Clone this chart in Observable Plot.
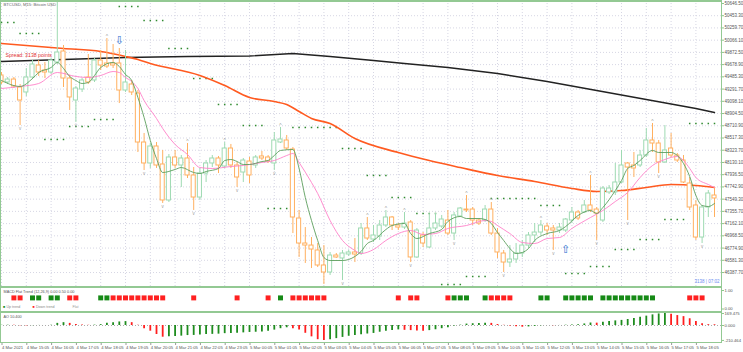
<!DOCTYPE html>
<html><head><meta charset="utf-8">
<script src="https://cdn.jsdelivr.net/npm/d3@7"></script>
<script src="https://cdn.jsdelivr.net/npm/@observablehq/plot@0.6"></script>
<style>
body{margin:0;background:#fff;}
#wrap{position:relative;width:743px;height:352px;overflow:hidden;font-family:"Liberation Sans",Arial,sans-serif;background:#fff;}
#wrap svg{position:absolute;left:0;}
.ln{position:absolute;background:#93c993;}
</style></head><body><div id="wrap"></div>
<script>
// ---- candles (BTCUSD M15) ----
const open = [49507,49396,49443,49317,49238,49475,49665,49586,49554,49713,
49887,49459,49111,49285,49475,49428,49744,49697,49697,49697,
49269,49364,49222,48446,48114,48383,48098,47528,48209,48082,
48193,47924,47575,47955,48114,48193,48066,48351,48082,47971,
48145,48082,48225,48209,48114,48446,48478,48335,47243,46847,
46815,46737,46499,46388,46657,46610,46673,46705,46689,47085,
46910,46958,47132,47259,47132,47100,47180,46626,46974,46784,
47085,47116,47211,47005,47275,47385,47385,47211,47211,47385,
47005,46689,46546,46594,46689,46815,46974,47021,47116,47085,
47053,47053,47211,47338,47338,47449,47385,47211,47655,47655,
47813,48114,48082,48082,48240,48478,48430,48130,48351,48240,
48161,47797,47449,46942,47417,47607];
const high = [49554,49475,49475,49364,49618,49744,49744,49713,49776,50662,
49982,49507,49333,49459,49839,49776,49903,50092,49997,49934,
49903,49428,49269,48589,48430,48446,48320,48256,48320,48240,
48430,48050,48035,48161,48240,48225,48446,48415,48130,48193,
48209,48240,48304,48240,48604,48684,48557,48367,47370,47100,
46942,46847,46815,46705,46689,46737,46737,46926,47164,47259,
47132,47211,47370,47275,47164,47338,47211,47085,47021,47322,
47322,47291,47370,47338,47417,47607,47417,47243,47449,47496,
47085,46737,46815,46847,46895,47021,47164,47211,47164,47132,
47164,47243,47417,47370,47528,47924,47417,47749,47765,48114,
48320,48130,48288,48320,48668,48747,48478,48715,48589,48272,
48240,47892,47528,47449,47686,47734];
const low = [49364,49364,49301,48715,49174,49443,49491,49459,49523,49681,
49317,48953,48763,49238,49364,49396,49586,49618,49618,49063,
49238,49190,48288,48003,48035,48035,47481,47496,48035,47734,
47876,47370,47528,47813,48050,47955,48035,48035,47734,47813,
47797,48035,48161,48114,48003,48430,48320,47005,46626,46531,
46451,46467,46198,46341,46610,46262,46642,46546,46657,46895,
46863,46895,47100,47053,47053,47069,46546,46610,46784,46768,
47053,47085,46974,46895,47259,47338,47132,47132,47180,46974,
46610,46388,46467,46531,46626,46768,46863,46974,46974,46737,
47005,47021,47164,47211,47322,47338,46895,47180,47623,47607,
47797,47211,47892,48050,48209,48288,47955,48114,48209,48130,
47797,47370,46895,46847,47259,47259];
const close = [49396,49443,49333,49111,49475,49681,49554,49554,49744,49871,
49459,49159,49301,49428,49396,49744,49665,49649,49665,49269,
49396,49238,48446,48114,48383,48082,47528,48209,48082,48193,
47924,47575,47955,48114,48193,48082,48351,48082,47892,48161,
47924,48209,48193,48145,48478,48494,48351,47259,46847,46815,
46752,46499,46388,46657,46626,46689,46705,46673,47085,46926,
46974,47132,47259,47132,47100,47164,46626,47053,46847,47085,
47164,47227,47005,47291,47401,47370,47211,47164,47385,47005,
46705,46546,46594,46689,46815,46974,47021,47132,47053,47053,
47100,47227,47338,47243,47449,47370,47322,47718,47718,47813,
48082,48050,48035,48240,48478,48430,48130,48320,48240,48161,
47813,47417,46942,47417,47639,47560];

// ---- moving averages (read at bars) ----
const blackX = [0,10,20,30,40,47,53,60,65,72,80,88,96,104,112,115];
const blackY = [49728,49760,49792,49808,49815,49855,49808,49744,49697,49633,49538,49412,49269,49127,48984,48921];
const orangeX = [0,10,16,20,22,24,32,36,40,44,46,48,50,53,57,64,69,74,80,86,92,96,100,104,108,112,115];
const orangeY = [50013,49934,49887,49808,49760,49697,49507,49348,49159,49095,49048,48937,48826,48747,48509,48288,48161,48050,47924,47829,47718,47671,47686,47734,47781,47765,47734];
const pinkX = [0,3,6,9,12,14,16,18,19,20,21,22,23,25,26,28,30,32,34,37,39,42,44,46,47,48,50,51,53,55,57,58,60,62,64,66,68,70,72,75,78,79,80,82,84,86,88,90,92,95,97,99,101,103,105,107,109,110,111,112,114,115];
const pinkY = [49301,49333,49380,49554,49491,49475,49507,49570,49554,49475,49412,49301,49111,48826,48668,48415,48256,48050,48035,48066,48082,48130,48161,48240,48272,48130,47813,47639,47211,46895,46737,46689,46752,46895,47005,47053,46990,47005,47085,47132,47211,47196,47132,47005,46863,46847,46926,46942,47085,47259,47370,47512,47655,47892,48082,48177,48225,48161,48035,47892,47781,47734];
const greenX = [0,3,5,6,8,9,10,11,12,13,14,15,16,18,19,20,21,22,23,24,25,26,28,29,31,32,33,35,36,37,38,39,40,42,43,44,45,47,48,49,50,51,52,53,55,57,58,59,60,62,63,65,66,67,69,71,72,74,75,77,78,79,80,81,82,83,84,85,86,88,90,91,93,95,96,97,99,100,101,102,103,105,106,108,109,110,111,112,113,114,115];
const greenY = [49428,49333,49459,49554,49633,49713,49618,49491,49428,49380,49396,49507,49633,49713,49649,49523,49428,49159,48842,48478,48193,47971,48019,48050,47971,47955,47987,48035,48161,48177,48145,48098,48098,48145,48161,48240,48320,48335,48035,47575,47211,46895,46626,46578,46578,46642,46721,46847,46895,47069,47132,47164,47005,46926,47005,47069,47196,47275,47243,47243,47227,47164,47021,46895,46768,46689,46705,46768,46895,47005,47053,47116,47291,47370,47322,47417,47686,47845,48035,48082,48161,48320,48288,48288,48240,48114,47908,47607,47449,47433,47481];

// ---- stepped dotted levels: start bar, length, price ----
const segStart = [0,3,7,11,15,19,23,27,31,35,39,43,47,55,59,63,67,71,75,79,87,91,95,99,103,107,111];
const segLen   = [3,4,4,4,4,4,4,4,4,4,4,4,8,4,4,4,4,4,4,8,4,4,4,4,4,4,5];
const segLevel = [50346,50172,48494,48699,48810,50599,50377,49934,49459,49048,48715,47401,48684,48351,47924,47575,47322,46198,46325,47560,47449,46372,46483,46752,46910,47227,48747];

// ---- fractals and signal arrows ----
const fractalUp = [17,30,36,45,59,62,65,75,79,87,95,105];
const fractalDown = [3,12,23,26,31,38,44,55,66,73,81,89,96,101,106,113];
const sellBars = [19], sellPrice = [50061];
const buyBars = [91], buyPrice = [46752];

// ---- MACD Flat Trend ----
const macdUpBars = [5,6,8,9,16,17,45,73,74,75,78,87,88,91,92,93,94,95,97,98,99,100,101,102,103,104,105];
const macdDownBars = [2,3,11,12,18,19,20,21,22,23,24,25,26,31,38,43,47,48,49,50,51,52,64,66,67,72,79,80,81,82,111,112,113];

// ---- Awesome Oscillator ----
const ao = [3,4,2,-3,-5,-2,1,-1,3,30,
40,30,15,8,3,5,12,30,40,50,
55,40,5,-45,-80,-127,-165,-160,-155,-150,
-142,-140,-135,-128,-125,-122,-115,-112,-110,-104,
-98,-95,-90,-80,-65,-45,-32,-45,-65,-110,
-160,-200,-210,-200,-185,-168,-152,-140,-130,-120,
-112,-95,-82,-72,-62,-68,-72,-76,-80,-72,
-60,-45,-30,-8,5,20,25,27,33,30,
14,3,-8,-18,-24,-20,-12,-4,0,-3,
1,4,8,12,22,35,33,45,55,65,
72,85,100,115,132,150,163,169.475,160,140,
125,95,55,25,12,10.4];

// ---- axes ----
const priceTicks = [50646.50,50453.30,50259.70,50066.10,49872.50,49678.90,49485.30,49291.70,49098.10,48904.50,48710.90,48517.30,48323.70,48130.10,47936.50,47742.90,47549.30,47355.70,47162.10,46968.50,46774.90,46581.30,46387.70];
const timeTickBars = [0,4,8,12,16,20,24,28,32,36,40,44,48,52,56,60,64,68,72,76,80,84,88,92,96,100,104,108,112];
const timeLabels = ["4 Mar 2021","4 Mar 15:05","4 Mar 16:05","4 Mar 17:05","4 Mar 18:05","4 Mar 19:05","4 Mar 20:05","4 Mar 21:05","4 Mar 22:05","4 Mar 23:05","5 Mar 00:05","5 Mar 01:05","5 Mar 02:05","5 Mar 03:05","5 Mar 04:05","5 Mar 05:05","5 Mar 06:05","5 Mar 07:05","5 Mar 08:05","5 Mar 09:05","5 Mar 10:05","5 Mar 11:05","5 Mar 12:05","5 Mar 13:05","5 Mar 14:05","5 Mar 15:05","5 Mar 16:05","5 Mar 17:05","5 Mar 18:05"];
const aoTicks = [169.475, 0, -210.464];
const macdTicks = [1, 0];

// ---------------- drawing ----------------
const GREEN_C = "#9edab2", ORANGE_C = "#ffb060";
const GRID = "#d6d6e4", AXIS = "#8cc68c", TXT = "#555";
const FONT = "Liberation Sans, Arial, sans-serif";
const xDom = [-1/6.2, 720/6.2];
const wrap = document.getElementById("wrap");

const bars = open.map((o,i)=>({i,o,h:high[i],l:low[i],c:close[i],up:close[i]>=open[i]}));
const pts = (X,Y)=>X.map((x,k)=>({x,y:Y[k]}));
const dots = [];
segStart.forEach((s,k)=>{for(let j=0;j<segLen[k];j++) dots.push({i:s+j,p:segLevel[k]});});

const main = Plot.plot({
  width:743, height:286, marginLeft:0, marginRight:22, marginTop:0, marginBottom:0,
  x:{domain:xDom, axis:null},
  y:{domain:[46166.6,50694], axis:null},
  color:{type:"identity"},
  style:{background:"#fff", fontFamily:FONT, overflow:"hidden"},
  marks:[
    Plot.gridY(priceTicks.slice(1), {stroke:GRID, strokeOpacity:1, strokeDasharray:"1,2"}),
    Plot.gridX(timeTickBars, {stroke:GRID, strokeOpacity:1, strokeDasharray:"1,2"}),
    Plot.axisY(priceTicks, {anchor:"right", tickSize:2, tickPadding:1, fontSize:4.5, fill:TXT, stroke:AXIS, label:null, tickFormat:d=>d.toFixed(2)}),
    Plot.dot(dots, {x:"i", y:"p", r:0.85, symbol:"square", fill:"#2f8a2f"}),
    Plot.line(pts(blackX,blackY), {x:"x", y:"y", stroke:"#222", strokeWidth:1.4}),
    Plot.line(pts(orangeX,orangeY), {x:"x", y:"y", stroke:"#ff5a20", strokeWidth:1.6, curve:"monotone-x"}),
    Plot.ruleX(bars, {x:"i", y1:"l", y2:"h", stroke:d=>d.up?GREEN_C:ORANGE_C, strokeWidth:1}),
    Plot.rect(bars, {x1:d=>d.i-0.33, x2:d=>d.i+0.33, y1:d=>Math.min(d.o,d.c), y2:d=>Math.max(d.o,d.c), fill:"#fff", stroke:d=>d.up?GREEN_C:ORANGE_C, strokeWidth:1}),
    Plot.line(pts(pinkX,pinkY), {x:"x", y:"y", stroke:"#ff80c8", strokeWidth:0.9, curve:"monotone-x"}),
    Plot.line(pts(greenX,greenY), {x:"x", y:"y", stroke:"#5c9e5c", strokeWidth:0.9, curve:"monotone-x"}),
    Plot.text(fractalUp, {x:d=>d, y:d=>high[d], text:()=>"^", dy:-2, fontSize:5, fill:"#999"}),
    Plot.text(fractalDown, {x:d=>d, y:d=>low[d], text:()=>"v", dy:3, fontSize:4.5, fill:"#999"}),
    Plot.text(sellBars, {x:d=>d, y:(d,k)=>sellPrice[k], text:()=>"⇩", fontSize:11, fill:"#2f72d0", fontFamily:"DejaVu Sans"}),
    Plot.text(buyBars, {x:d=>d, y:(d,k)=>buyPrice[k], text:()=>"⇧", fontSize:11, fill:"#2f72d0", fontFamily:"DejaVu Sans"}),
    Plot.text(["BTCUSD, M15: Bitcoin USD"], {frameAnchor:"top-left", dx:3, dy:3, fontSize:4.2, fill:"#666", textAnchor:"start"}),
    Plot.text(["Spread: 3138 points"], {frameAnchor:"top-left", dx:5, dy:53, fontSize:5.2, fill:"#e03030", textAnchor:"start"}),
    Plot.text(["3138 | 07:02"], {frameAnchor:"bottom-right", dx:-2, dy:-4, fontSize:4.5, fill:"#6a8cf0", textAnchor:"end"})
  ]
});
main.style.top = "0px";
wrap.appendChild(main);

const macd = Plot.plot({
  width:743, height:25, marginLeft:0, marginRight:22, marginTop:0, marginBottom:0,
  x:{domain:xDom, axis:null},
  y:{domain:[-0.135,1.216], axis:null},
  style:{background:"#fff", fontFamily:FONT},
  marks:[
    Plot.axisY(macdTicks, {anchor:"right", tickSize:2, tickPadding:1, fontSize:4.2, fill:TXT, stroke:AXIS, label:null, tickFormat:d=>d.toFixed(2)}),
    Plot.dot(macdUpBars, {x:d=>d, y:()=>0.6, symbol:"square", r:2.8, fill:"#168a16"}),
    Plot.dot(macdDownBars, {x:d=>d, y:()=>0.6, symbol:"square", r:2.8, fill:"#ff2020"}),
    Plot.text(["MACD Flat Trend (12,26,9) 0.00 0.50 0.00"], {frameAnchor:"top-left", dx:3, dy:4, fontSize:3.8, fill:"#555", textAnchor:"start"}),
    Plot.text(["■"], {frameAnchor:"top-left", dx:2.5, dy:19, fontSize:3.6, fill:"#168a16", textAnchor:"start"}),
    Plot.text(["Up trend"], {frameAnchor:"top-left", dx:6, dy:19, fontSize:3.6, fill:"#888", textAnchor:"start"}),
    Plot.text(["■"], {frameAnchor:"top-left", dx:32, dy:19, fontSize:3.6, fill:"#ff2020", textAnchor:"start"}),
    Plot.text(["Down trend"], {frameAnchor:"top-left", dx:35.5, dy:19, fontSize:3.6, fill:"#888", textAnchor:"start"}),
    Plot.text(["Flat"], {frameAnchor:"top-left", dx:72, dy:19, fontSize:3.6, fill:"#999", textAnchor:"start"})
  ]
});
macd.style.top = "286px";
wrap.appendChild(macd);

const aoData = ao.map((v,i)=>({i,v,col:(i===0||v>=ao[i-1])?"#1e8c1e":"#ff1e1e"}));
const aoPlot = Plot.plot({
  width:743, height:41, marginLeft:0, marginRight:22, marginTop:0, marginBottom:9,
  x:{domain:xDom, axis:null},
  y:{domain:[-253.8,197.4], axis:null},
  color:{type:"identity"},
  style:{background:"#fff", fontFamily:FONT},
  marks:[
    Plot.ruleY([0], {stroke:"#aaa", strokeDasharray:"1,2"}),
    Plot.ruleX(aoData, {x:"i", y1:0, y2:"v", stroke:"col", strokeWidth:1.8}),
    Plot.axisY(aoTicks, {anchor:"right", tickSize:2, tickPadding:1, fontSize:4.2, fill:TXT, stroke:AXIS, label:null, tickFormat:d=>d.toFixed(3)}),
    Plot.axisX(timeTickBars, {anchor:"bottom", tickSize:2, tickPadding:1, fontSize:4.2, fill:TXT, stroke:"#999", label:null, textAnchor:"start", dx:0.5, tickFormat:d=>timeLabels[timeTickBars.indexOf(d)]}),
    Plot.text(["AO 10.400"], {frameAnchor:"top-left", dx:3, dy:4, fontSize:3.8, fill:"#555", textAnchor:"start"})
  ]
});
aoPlot.style.top = "311px";
wrap.appendChild(aoPlot);

// panel borders
function line(l,t,w,h){const d=document.createElement("div");d.className="ln";Object.assign(d.style,{left:l+"px",top:t+"px",width:w+"px",height:h+"px"});wrap.appendChild(d);}
line(0,0,721,2);
line(0,0,1,343);
line(721,0,1,343);
line(0,286,722,2);
line(0,311,722,2);
line(0,342,722,1);
</script></body></html>
